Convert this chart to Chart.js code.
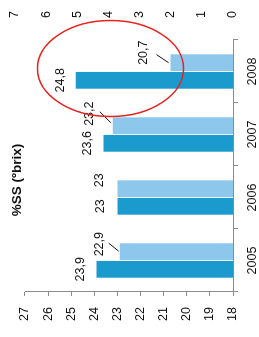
<!DOCTYPE html>
<html>
<head>
<meta charset="utf-8">
<script src="https://cdn.jsdelivr.net/npm/chart.js@4/dist/chart.umd.min.js"></script>
<style>
html, body { margin: 0; padding: 0; background: #fff; overflow: hidden; }
/* chart is drawn upright then turned a quarter to the left, like the reference */
#wrap {
    position: absolute; left: 0; top: 0;
    width: 337px; height: 259px;
    transform-origin: 0 0;
    transform: translate(0, 337px) rotate(-90deg);
}
</style>
</head>
<body>
<div id="wrap"><canvas id="chart" width="337" height="259"></canvas></div>
<script>
var years = ["2005", "2006", "2007", "2008"];
var ssDark = [23.9, 23, 23.6, 24.8];
var ssLight = [22.9, 23, 23.2, 20.7];
var leftTicks = [18, 19, 20, 21, 22, 23, 24, 25, 26, 27];
var rightTicks = [0, 1, 2, 3, 4, 5, 6, 7];

// label placement, in px from the top centre of each bar
var darkLabelOffset = [[0, -16], [0, -17], [0, -16], [0, -15]];
var lightLabelOffset = [[7.5, -20], [8.5, -18], [12, -23], [10, -27]];
var lightLeader = [[0.5, -1, 8.5, -11], null, [3, -2, 14, -13], [0, -2, 8, -14]];

var FONT = "'Liberation Sans', Arial, sans-serif";

function fmt(v) {
    return String(v).replace(".", ",");
}

// stop tick labels from pushing the plot area around
function noPad(s) {
    s.paddingTop = 0;
    s.paddingBottom = 0;
    s.paddingLeft = 0;
    s.paddingRight = 0;
}

var extras = {
    id: "extras",
    afterDatasetsDraw: function(chart) {
        var ctx = chart.ctx;
        var area = chart.chartArea;
        var y = chart.scales.y;
        var x = chart.scales.x;

        // left axis line, only from 18 to 27
        ctx.save();
        ctx.strokeStyle = "#8c8c8c";
        ctx.lineWidth = 1;
        ctx.beginPath();
        ctx.moveTo(area.left + 0.5, y.getPixelForValue(leftTicks[0]));
        ctx.lineTo(area.left + 0.5, y.getPixelForValue(leftTicks[leftTicks.length - 1]));
        ctx.stroke();

        // value labels
        ctx.fillStyle = "#111";
        ctx.font = "12.5px " + FONT;
        ctx.textAlign = "center";
        ctx.textBaseline = "middle";
        var dark = chart.getDatasetMeta(0).data;
        var light = chart.getDatasetMeta(1).data;
        dark.forEach(function(bar, i) {
            ctx.fillText(fmt(ssDark[i]), bar.x + darkLabelOffset[i][0], bar.y + darkLabelOffset[i][1]);
        });
        light.forEach(function(bar, i) {
            ctx.fillText(fmt(ssLight[i]), bar.x + lightLabelOffset[i][0], bar.y + lightLabelOffset[i][1]);
            var l = lightLeader[i];
            if (l) {
                ctx.strokeStyle = "#111";
                ctx.beginPath();
                ctx.moveTo(bar.x + l[0], bar.y + l[1]);
                ctx.lineTo(bar.x + l[2], bar.y + l[3]);
                ctx.stroke();
            }
        });

        // axis title
        ctx.font = "bold 13.5px 'Liberation Sans Narrow', " + FONT;
        ctx.fillText("%SS (\u00bAbrix)", area.left + 112, 17);

        // red ring around 2008
        ctx.strokeStyle = "#e8231d";
        ctx.lineWidth = 1.5;
        ctx.beginPath();
        ctx.ellipse(x.getPixelForValue(3) + 3, y.getPixelForValue(23.3), 48, 73, 0, 0, Math.PI * 2);
        ctx.stroke();
        ctx.restore();
    }
};

new Chart(document.getElementById("chart"), {
    type: "bar",
    data: {
        labels: years,
        datasets: [{
            data: ssDark,
            backgroundColor: "#1a9acd",
            yAxisID: "y",
            categoryPercentage: 0.56,
            barPercentage: 0.95
        }, {
            data: ssLight,
            backgroundColor: "#8dc7ec",
            yAxisID: "y",
            categoryPercentage: 0.56,
            barPercentage: 0.95
        }]
    },
    options: {
        responsive: false,
        animation: false,
        devicePixelRatio: 1,
        layout: { padding: { top: 15, left: 0, right: 0, bottom: 0 } },
        plugins: {
            legend: { display: false },
            tooltip: { enabled: false }
        },
        scales: {
            x: {
                grid: { offset: true, drawOnChartArea: false, tickLength: 5, color: "#8c8c8c" },
                border: { color: "#8c8c8c" },
                ticks: { color: "#111", font: { size: 12.5, family: FONT }, padding: 7, maxRotation: 0 },
                afterFit: function(s) { noPad(s); s.height = 26; }
            },
            y: {
                position: "left",
                min: 18,
                max: 27.43,
                grid: { drawOnChartArea: false, tickLength: 4, color: "#8c8c8c" },
                border: { display: false },
                ticks: { color: "#111", font: { size: 12.5, family: FONT }, padding: 11 },
                afterBuildTicks: function(s) {
                    s.ticks = leftTicks.map(function(v) { return { value: v }; });
                },
                afterFit: function(s) { noPad(s); s.width = 45; }
            },
            y2: {
                position: "right",
                display: true,
                min: 0,
                max: 7,
                grid: { display: false, drawTicks: false },
                border: { display: false },
                ticks: { color: "#111", font: { size: 12.5, family: FONT }, padding: 22 },
                afterBuildTicks: function(s) {
                    s.ticks = rightTicks.map(function(v) { return { value: v }; });
                },
                afterFit: function(s) { noPad(s); s.width = 40; }
            }
        }
    },
    plugins: [extras]
});
</script>
</body>
</html>
